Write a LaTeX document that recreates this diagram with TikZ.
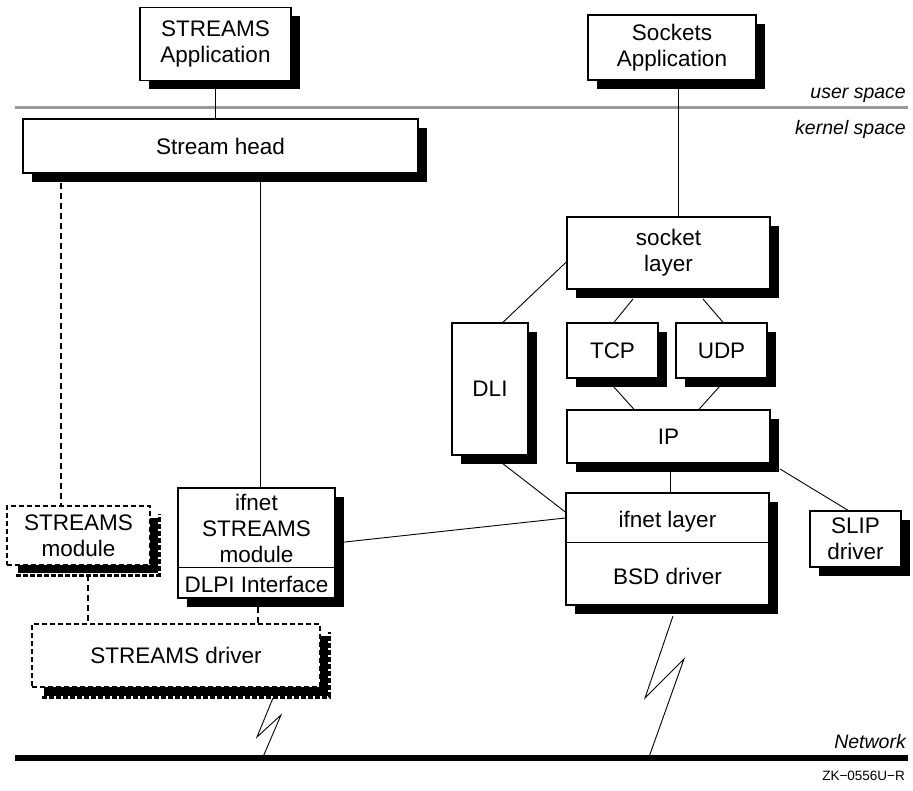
\documentclass[tikz,border=0pt]{standalone}
\usepackage{fontspec}
\setmainfont{Liberation Sans}
\usetikzlibrary{shadows,calc}
\begin{document}
\begin{tikzpicture}[x=1pt,y=-1pt,
  tfont/.style={font=\fontsize{22.5}{26}\selectfont},
  box/.style={draw=black,line width=1.4pt,fill=white,rectangle,inner sep=0pt,align=center,tfont,
    drop shadow={shadow xshift=9pt,shadow yshift=-9pt,fill=black,opacity=1}},
  dbox/.style={draw=black,line width=1.6pt,dash pattern=on 5pt off 3pt,fill=white,rectangle,inner sep=0pt,align=center,tfont},
  conn/.style={line width=0.9pt},
  dconn/.style={line width=2pt,dash pattern=on 6pt off 4pt},
  lbl/.style={font=\itshape\fontsize{19.5}{22}\selectfont,anchor=east,inner sep=0pt}]
\useasboundingbox (0,0) rectangle (913,791);
% separator line
\draw[black!40,line width=3pt] (15,108) coordinate (ul) -- (908,108) coordinate (ur);
\node[lbl] (us) at (906,95) {user space};
\node[lbl] (ks) at (906,129) {kernel space};
% network
\draw[line width=6pt] (15,758) coordinate (nl) -- (908,758) coordinate (nr);
\node[lbl] (net) at (906,742) {Network};
\node[font=\fontsize{13.5}{15}\selectfont,anchor=east,inner sep=0pt] (zk) at (905,776) {ZK−0556U−R};

% solid boxes
\node[box,minimum width=151pt,minimum height=73pt] (sapp) at (215.5,44) {STREAMS\\Application};
\node[box,minimum width=395pt,minimum height=54pt] (shead) at (220.5,146) {Stream head};
\node[box,minimum width=168pt,minimum height=65pt] (kapp) at (672,47.5) {Sockets\\Application};
\node[box,minimum width=203pt,minimum height=72pt] (sock) at (668.5,253) {socket\\layer};
\node[box,minimum width=91pt,minimum height=55pt] (tcp) at (612.5,350.5) {TCP};
\node[box,minimum width=91pt,minimum height=55pt] (udp) at (721.5,350.5) {UDP};
\node[box,minimum width=76pt,minimum height=132pt] (dli) at (490,389) {DLI};
\node[box,minimum width=203pt,minimum height=53pt] (ip) at (668.5,436.5) {IP};
\node[box,minimum width=203pt,minimum height=112pt] (bsd) at (667.5,549) {};
\node[tfont,inner sep=0pt] (ifl) at (667.5,522) {ifnet layer};
\node[tfont,inner sep=0pt] (bsdt) at (667.5,576) {BSD driver};
\draw[conn] (bsd.west |- 0,542) -- (bsd.east |- 0,542);
\node[box,minimum width=91pt,minimum height=56pt] (slip) at (855.5,539) {SLIP\\driver};
\node[box,minimum width=157pt,minimum height=110pt] (ifs) at (256.5,543) {};
\node[tfont,inner sep=0pt,align=center] (ifst) at (256.5,528) {ifnet\\STREAMS\\module};
\node[tfont,inner sep=0pt] (dlpi) at (256.5,584) {DLPI Interface};
\draw[conn] (ifs.west |- 0,567) -- (ifs.east |- 0,567);

% dashed boxes with jagged shadows
\fill[black] (18,518) rectangle (158,573);
\draw[line width=3pt,dash pattern=on 5pt off 2pt] (16,575) -- (159,575) -- (159,514);
\node[dbox,minimum width=143pt,minimum height=59pt] (smod) at (78.5,535.5) {STREAMS\\module};
\fill[black] (44,636) rectangle (328,696);
\draw[line width=3pt,dash pattern=on 5pt off 2pt] (42,697) -- (329,697) -- (329,632);
\node[dbox,minimum width=288pt,minimum height=63pt] (sdrv) at (176,655.5) {STREAMS driver};

% connectors
\draw[conn] (sapp.south) -- (sapp.south |- shead.north);
\draw[conn] (kapp.south -| 678,0) -- (sock.north -| 678,0);
\draw[conn] (shead.south -| 260,0) -- (ifs.north -| 260,0);
\draw[dconn] (61,183) -- (smod.north -| 61,0);
\draw[dconn] (88,575) -- (sdrv.north -| 88,0);
\draw[dconn] (258,607) -- (sdrv.north -| 258,0);
\draw[conn] (sock.west |- 0,262) -- (dli.north -| 503,0);
\draw[conn] (633,299) -- (tcp.north -| 614,0);
\draw[conn] (703,299) -- (udp.north -| 723,0);
\draw[conn] (613,386) -- (ip.north -| 634,0);
\draw[conn] (720,386) -- (ip.north -| 699,0);
\draw[conn] (670,472) -- (bsd.north -| 670,0);
\draw[conn] (780,469) -- (slip.north -| 848,0);
\draw[conn] (502,463) -- (bsd.west |- 0,512);
\draw[conn] (ifs.east |- 0,543) -- (bsd.west |- 0,518);
% lightning
\draw[conn,line join=miter] (673,616) -- (645,698) -- (684,659) -- (649,757);
\draw[conn,line join=miter] (273,698) -- (257,737) -- (281,715) -- (263,757);
\end{tikzpicture}
\end{document}
